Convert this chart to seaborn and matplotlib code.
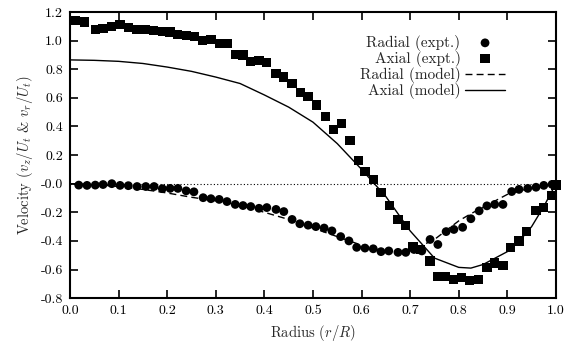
import numpy as np
import pandas as pd
import seaborn as sns
import matplotlib
matplotlib.use("Agg")
import matplotlib.pyplot as plt

radial_r = [0.018, 0.035, 0.052, 0.068, 0.086, 0.103, 0.12, 0.138, 0.156, 0.173,
            0.19, 0.206, 0.222, 0.239, 0.255, 0.274, 0.29, 0.307, 0.323, 0.34,
            0.356, 0.372, 0.389, 0.405, 0.424, 0.44, 0.457, 0.473, 0.49, 0.506,
            0.523, 0.539, 0.557, 0.574, 0.59, 0.607, 0.624, 0.64, 0.656, 0.675,
            0.691, 0.708, 0.724, 0.741, 0.757, 0.774, 0.79, 0.808, 0.825, 0.842,
            0.858, 0.874, 0.891, 0.909, 0.924, 0.942, 0.959, 0.975, 0.992, 1.0]
radial_v = [-0.01, -0.012, -0.01, -0.006, 0.0, -0.012, -0.014, -0.02, -0.02, -0.02,
            -0.035, -0.033, -0.033, -0.05, -0.057, -0.098, -0.105, -0.11, -0.125, -0.145,
            -0.153, -0.16, -0.172, -0.167, -0.18, -0.195, -0.25, -0.28, -0.29, -0.30,
            -0.31, -0.33, -0.37, -0.40, -0.445, -0.45, -0.455, -0.475, -0.47, -0.48,
            -0.48, -0.46, -0.47, -0.39, -0.425, -0.335, -0.32, -0.305, -0.245, -0.19,
            -0.155, -0.145, -0.145, -0.055, -0.04, -0.033, -0.025, -0.012, -0.005, -0.005]

axial_r = [0.012, 0.03, 0.053, 0.068, 0.086, 0.103, 0.12, 0.137, 0.155, 0.172,
           0.19, 0.206, 0.222, 0.24, 0.256, 0.273, 0.29, 0.307, 0.323, 0.34,
           0.356, 0.372, 0.389, 0.405, 0.424, 0.44, 0.457, 0.474, 0.49, 0.508,
           0.525, 0.542, 0.558, 0.576, 0.593, 0.607, 0.624, 0.64, 0.657, 0.675,
           0.69, 0.706, 0.722, 0.741, 0.757, 0.773, 0.79, 0.806, 0.822, 0.84,
           0.858, 0.874, 0.891, 0.907, 0.924, 0.94, 0.959, 0.975, 0.992, 1.0]
axial_v = [1.14, 1.13, 1.075, 1.087, 1.10, 1.11, 1.09, 1.08, 1.08, 1.07,
           1.065, 1.06, 1.045, 1.035, 1.03, 1.0, 1.005, 0.98, 0.98, 0.905,
           0.9, 0.855, 0.86, 0.845, 0.77, 0.745, 0.70, 0.635, 0.61, 0.55,
           0.47, 0.38, 0.42, 0.30, 0.16, 0.085, 0.03, -0.06, -0.15, -0.25,
           -0.29, -0.44, -0.46, -0.54, -0.65, -0.65, -0.67, -0.655, -0.675, -0.67,
           -0.585, -0.555, -0.57, -0.445, -0.40, -0.335, -0.19, -0.165, -0.085, -0.01]

# model curves
model_r = [0.0, 0.05, 0.10, 0.15, 0.20, 0.25, 0.30, 0.35, 0.40, 0.45, 0.50,
           0.55, 0.60, 0.65, 0.70, 0.75, 0.80, 0.825, 0.85, 0.90, 0.925, 0.95, 0.975, 1.0]
model_axial = [0.865, 0.862, 0.855, 0.84, 0.815, 0.785, 0.745, 0.70, 0.62, 0.535, 0.43,
               0.28, 0.10, -0.09, -0.33, -0.52, -0.585, -0.59, -0.565, -0.475, -0.40,
               -0.30, -0.16, 0.0]
model_radial = [0.0, -0.005, -0.02, -0.04, -0.065, -0.095, -0.12, -0.15, -0.20, -0.25, -0.31,
                -0.37, -0.43, -0.475, -0.47, -0.39, -0.26, -0.21, -0.165, -0.075, -0.05,
                -0.03, -0.012, 0.0]

sns.set_style("ticks")
plt.rcParams['font.family'] = 'serif'
plt.rcParams['font.serif'] = ['cmr10', 'DejaVu Serif']
plt.rcParams['mathtext.fontset'] = 'cm'
plt.rcParams['axes.unicode_minus'] = False
plt.rcParams['axes.formatter.use_mathtext'] = True

fig = plt.figure(figsize=(5.71, 3.52), dpi=100)
ax = fig.add_axes([0.1226, 0.153, 0.851, 0.813])

ax.axhline(0, color='black', lw=0.8, ls=(0, (1, 2)))

sns.scatterplot(x=radial_r, y=radial_v, ax=ax, marker='o', color='black', s=40,
                edgecolor='none', label='Radial (expt.)', clip_on=False, zorder=3)
sns.scatterplot(x=axial_r, y=axial_v, ax=ax, marker='s', color='black', s=44,
                edgecolor='none', label='Axial (expt.)', clip_on=False, zorder=3)
sns.lineplot(x=model_r, y=model_radial, ax=ax, color='black', lw=1.0,
             label='Radial (model)')
ax.lines[-1].set_linestyle((0, (5, 3)))
sns.lineplot(x=model_r, y=model_axial, ax=ax, color='black', lw=1.0,
             label='Axial (model)')

ax.set_xlim(0, 1.0)
ax.set_ylim(-0.8, 1.2)
ax.set_xticks(np.arange(0, 1.01, 0.1))
ax.set_yticks(np.arange(-0.8, 1.21, 0.2))
ax.xaxis.set_major_formatter(matplotlib.ticker.FormatStrFormatter('%.1f'))
ax.yaxis.set_major_formatter(matplotlib.ticker.FormatStrFormatter('%.1f'))
ax.tick_params(direction='in', length=6, width=1.2, top=True, right=True,
               labelsize=10, colors='black', pad=5)
for sp in ax.spines.values():
    sp.set_linewidth(1.5)
    sp.set_color('black')

ax.set_xlabel('Radius ($r/R$)', fontsize=10.5, labelpad=4)
ax.set_ylabel('Velocity ($v_z/U_t$ & $v_r/U_t$)', fontsize=10.5, labelpad=4)

leg = ax.legend(loc='upper right', bbox_to_anchor=(0.895, 0.92), frameon=False,
                markerfirst=False, fontsize=11, handlelength=2.6,
                labelspacing=0.0, handletextpad=0.3, borderaxespad=0,
                borderpad=0)
for t in leg.get_texts():
    t.set_ha('right')

fig.savefig('out.png', dpi=100)
